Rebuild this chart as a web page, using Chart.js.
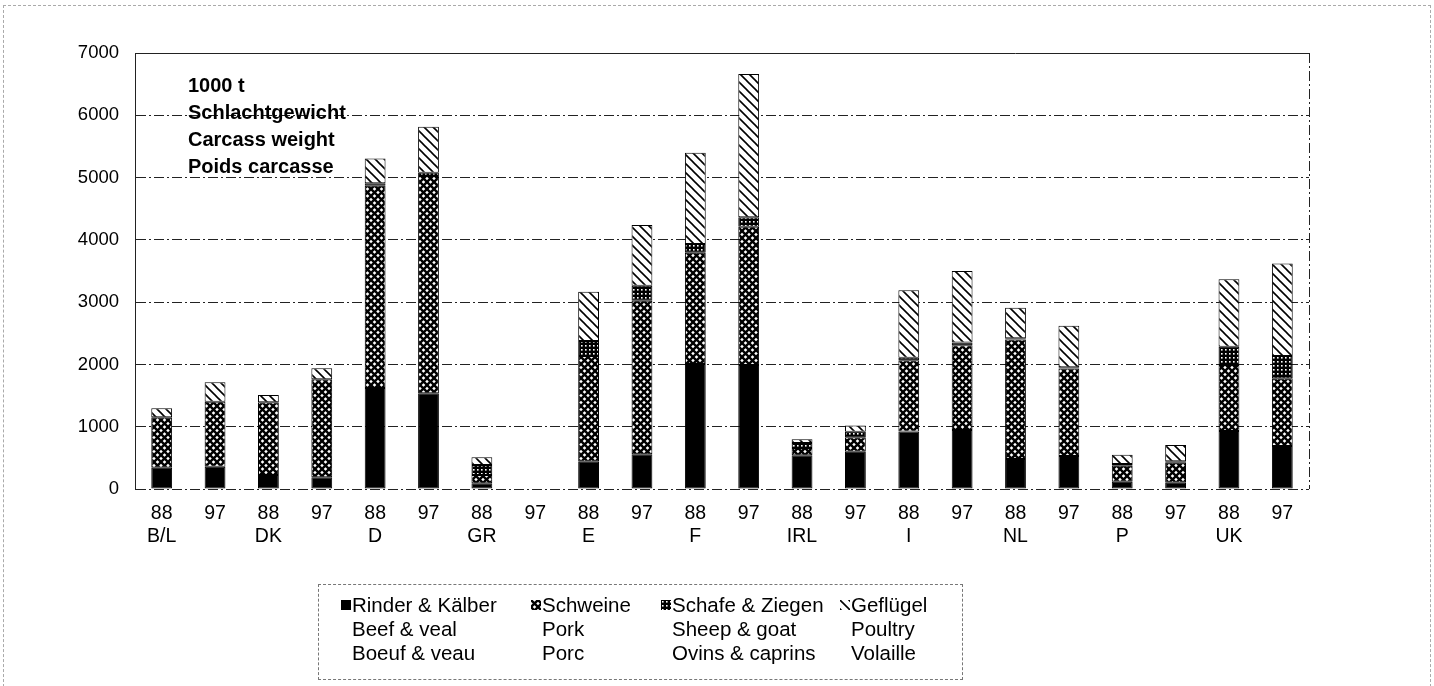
<!DOCTYPE html>
<html><head><meta charset="utf-8">
<script src="https://cdn.jsdelivr.net/npm/chart.js@4"></script>
<style>
html,body{margin:0;padding:0;background:#fff;}
#wrap{position:relative;width:1434px;height:686px;overflow:hidden;font-family:"Liberation Sans",Arial,sans-serif;color:#000;}
#frame{position:absolute;left:3px;top:5px;width:1426px;height:700px;border:1px dashed #aaa;}
canvas#c{position:absolute;left:0;top:0;}
#note{position:absolute;left:188px;top:72px;font-weight:bold;font-size:20px;line-height:27px;}
#legend{position:absolute;left:318px;top:584px;width:645px;height:96px;border:1px dashed #777;box-sizing:border-box;}
.col{position:absolute;top:8px;font-size:20.5px;line-height:24px;white-space:nowrap;}
.col canvas{position:absolute;left:0;top:7px;}
.col div{padding-left:11px;}
</style>
</head><body>
<div id="wrap">
<div id="frame"></div>
<canvas id="c" width="1434" height="686"></canvas>
<div id="note">1000 t<br>Schlachtgewicht<br>Carcass weight<br>Poids carcasse</div>
<div id="legend"></div>
</div>
<script>
// ---- data ----
const years = ['88','97','88','97','88','97','88','97','88','97','88','97','88','97','88','97','88','97','88','97','88','97'];
const countries = ['B/L','DK','D','GR','E','F','IRL','I','NL','P','UK'];
const beef    = [342,358, 225,188, 1620,1536, 91,null, 438,557, 2006,1990, 540,600, 925,947, 482,530, 115,100, 931,690];
const pork    = [809,1043, 1166,1573, 3247,3491, 134,null, 1697,2465, 1787,2220, 120,230, 1143,1360, 1917,1403, 260,320, 1059,1087];
const sheep   = [0,0, 0,0, 40,50, 160,null, 241,241, 140,151, 80,90, 40,45, 20,20, 25,25, 294,358];
const poultry = [144,311, 118,176, 401,738, 124,null, 791,975, 1465,2300, 60,100, 1082,1147, 491,668, 150,260, 1082,1487];
const seriesNames = [
  ['Rinder & Kälber','Beef & veal','Boeuf & veau'],
  ['Schweine','Pork','Porc'],
  ['Schafe & Ziegen','Sheep & goat','Ovins & caprins'],
  ['Geflügel','Poultry','Volaille']
];
const yTicks = [0,1000,2000,3000,4000,5000,6000,7000];

// ---- patterns ----
function tile(size, draw){const c=document.createElement('canvas');c.width=size;c.height=size;const g=c.getContext('2d');draw(g,size);return c;}
const tPork = tile(7,(g,s)=>{g.fillStyle='#fff';g.fillRect(0,0,s,s);g.strokeStyle='#000';g.lineWidth=2.4;
  for(const o of [-s,0,s]){g.beginPath();g.moveTo(-1+o,-1);g.lineTo(s+1+o,s+1);g.stroke();g.beginPath();g.moveTo(s+1+o,-1);g.lineTo(-1+o,s+1);g.stroke();}});
const tSheep = tile(4,(g,s)=>{g.fillStyle='#000';g.fillRect(0,0,s,s);g.fillStyle='#fff';g.fillRect(1,1,1.6,1.6);});
const tPoultry = tile(9,(g,s)=>{g.fillStyle='#fff';g.fillRect(0,0,s,s);g.strokeStyle='#000';g.lineWidth=1.6;
  for(const o of [-s,0,s]){g.beginPath();g.moveTo(-2+o,-2);g.lineTo(s+2+o,s+2);g.stroke();}});
const ctx = document.getElementById('c').getContext('2d');
const pPork = ctx.createPattern(tPork,'repeat');
const pSheep = ctx.createPattern(tSheep,'repeat');
const pPoultry = ctx.createPattern(tPoultry,'repeat');
const fills = ['#000', pPork, pSheep, pPoultry];
const tiles = [null, tPork, tSheep, tPoultry];

// labels: year on first line, country under the 88 bar
const labels = years.map((y,i)=> i%2===0 ? [y, countries[i/2]] : [y, '']);

const borderPlugin = {
  id:'frameLines',
  afterDraw(chart){
    const a = chart.chartArea, g = chart.ctx;
    g.save();
    g.strokeStyle='#222'; g.lineWidth=1;
    g.beginPath(); g.moveTo(a.left, a.top+0.5); g.lineTo(a.right, a.top+0.5); g.stroke();
    g.setLineDash([10,3,2,3]);
    g.beginPath(); g.moveTo(a.right+0.5, a.top); g.lineTo(a.right+0.5, a.bottom); g.stroke();
    g.restore();
  }
};

new Chart(ctx, {
  type:'bar',
  data:{
    labels,
    datasets:[beef,pork,sheep,poultry].map((d,i)=>({
      label: seriesNames[i][0], data:d, backgroundColor: fills[i],
      borderColor:'#000', borderWidth:1, borderSkipped:false,
      barPercentage:0.39, categoryPercentage:1
    }))
  },
  options:{
    responsive:false, animation:false, devicePixelRatio:1,
    layout:{padding:{top:53,right:125,left:0,bottom:0}},
    plugins:{legend:{display:false},tooltip:{enabled:false}},
    scales:{
      x:{stacked:true,
        grid:{display:false,drawTicks:false},
        border:{display:false},
        ticks:{color:'#000',font:{family:'"Liberation Sans", Arial',size:19.5},maxRotation:0,autoSkip:false,padding:13},
        afterFit(s){s.height=197;}
      },
      y:{stacked:true,min:0,max:7000,
        afterBuildTicks(s){s.ticks=yTicks.map(v=>({value:v}));},
        grid:{color:'#222',lineWidth:1,drawTicks:false},
        border:{display:true,color:'#222',dash:[10,3,2,3]},
        ticks:{color:'#000',font:{family:'"Liberation Sans", Arial',size:18.5},padding:16,callback:v=>String(v)},
        afterFit(s){s.width=135;}
      }
    }
  },
  plugins:[borderPlugin]
});

// ---- HTML legend ----
const colX = [22, 212, 342, 521];
const leg = document.getElementById('legend');
seriesNames.forEach((names,i)=>{
  const col=document.createElement('div'); col.className='col'; col.style.left=colX[i]+'px';
  const sw=document.createElement('canvas'); sw.width=10; sw.height=10;
  const sg=sw.getContext('2d');
  if(i===0){sg.fillStyle='#000';sg.fillRect(0,0,10,10);} else {sg.fillStyle=sg.createPattern(tiles[i],'repeat');sg.fillRect(0,0,10,10);}
  col.appendChild(sw);
  names.forEach(n=>{const d=document.createElement('div');d.textContent=n;col.appendChild(d);});
  leg.appendChild(col);
});
</script>
</body></html>
